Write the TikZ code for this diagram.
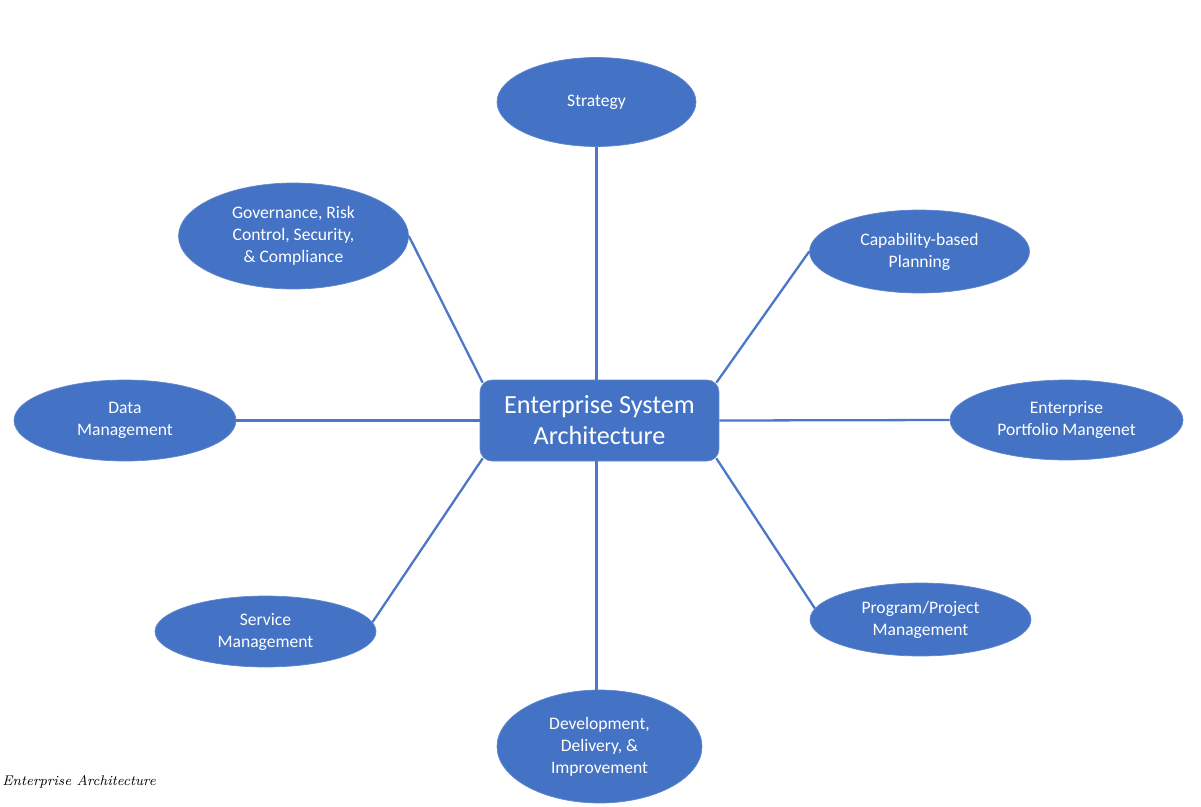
\documentclass[tikz,border=0pt]{standalone}
\usepackage{fontspec}
\setmainfont{Carlito}
\usepackage{tikz}
\usetikzlibrary{shapes.geometric}
\definecolor{eablue}{HTML}{4472C4}
\definecolor{ealine}{HTML}{4A77C8}

\begin{document}
\begin{tikzpicture}[x=0.02cm, y=-0.02cm,
        topic/.style 2 args={ellipse, fill=eablue, draw=eablue!85!white, thin, text=white, inner sep=0pt,
            minimum width=#1, minimum height=#2, align=center, font=\fontsize{10}{12.5}\selectfont},
        core/.style={rectangle, rounded corners=0.24cm, fill=eablue, draw=eablue!85!white, thin, text=white,
            minimum width=4.78cm, minimum height=1.62cm, align=center, font=\fontsize{14.9}{17.6}\selectfont},
        link/.style={ealine, line width=1.3pt}]
            \useasboundingbox (0, 0) rectangle (1201, 806);
            \node[core](box) at (599.5, 420.5){Enterprise System\\Architecture};
            \node[topic={3.98cm}{1.78cm}](strat) at (596.5, 102){Strategy};
            \node[topic={4.60cm}{2.12cm}](gov) at (293.5, 236){Governance, Risk\\Control, Security,\\\& Compliance};
            \node[topic={4.40cm}{1.66cm}](cap) at (919.5, 251.5){Capability-based\\Planning};
            \node[topic={4.44cm}{1.62cm}](data) at (125, 420.5){Data\\Management};
            \node[topic={4.66cm}{1.60cm}](port) at (1066.5, 420){Enterprise\\Portfolio Mangenet};
            \node[topic={4.42cm}{1.42cm}](serv) at (265.5, 631.5){Service\\Management};
            \node[topic={4.42cm}{1.46cm}](prog) at (920.5, 619.5){Program/Project\\Management};
            \node[topic={4.10cm}{2.26cm}](dev) at (599.5, 746.5){Development,\\Delivery, \&\\Improvement};
            \draw[link](strat.south)--(strat.south |- box.north);
            \draw[link](strat.south |- box.south)--(strat.south |- dev.north);
            \draw[link](data.east)--(box.west);
            \draw[link](box.east)--(port.west);
            \draw[link]([shift={(3, 3)}]box.north west)--(gov.east);
            \draw[link]([shift={(-3, 3)}]box.north east)--(cap.west);
            \draw[link]([shift={(3, -3)}]box.south west)--(serv.5);
            \draw[link]([shift={(-3, -3)}]box.south east)--(prog.174);
            \node[anchor=west, inner sep=0pt, font=\fontspec{Latin Modern Roman}\itshape\footnotesize](cap-text) at (2, 782){Enterprise Architecture};
        \end{tikzpicture}
\end{document}
